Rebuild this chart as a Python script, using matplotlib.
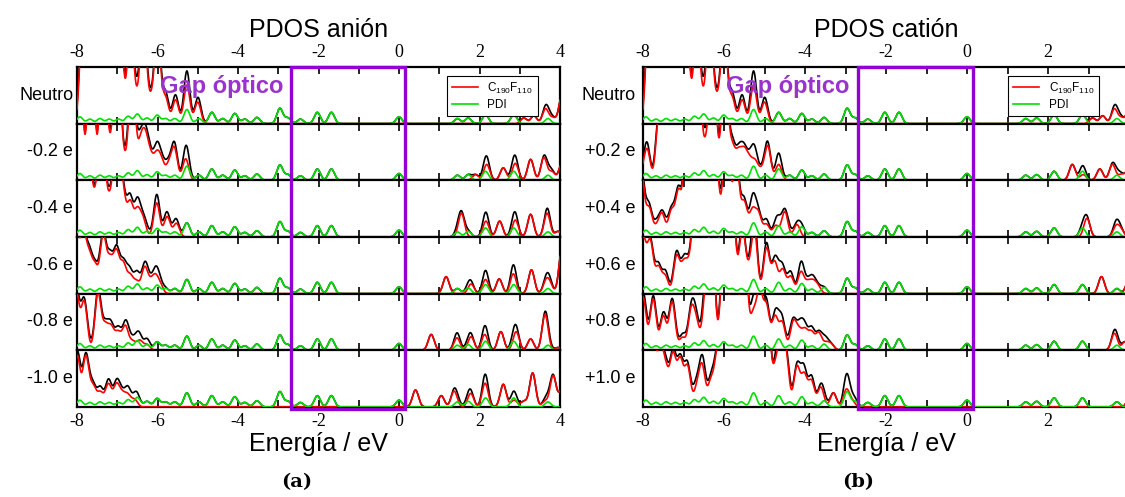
import numpy as np
import matplotlib.pyplot as plt
from matplotlib.patches import Rectangle
from matplotlib.lines import Line2D
from matplotlib.transforms import blended_transform_factory

plt.rcParams['axes.unicode_minus'] = False
plt.rcParams['mathtext.default'] = 'regular'

# peak positions (eV) and heights (fraction of a row) for each projected DOS
pdi_peaks = [(-7.93, 0.12), (-7.68, 0.08), (-7.43, 0.09), (-7.2, 0.08), (-6.97, 0.08),
             (-6.73, 0.13), (-6.5, 0.17), (-6.26, 0.1), (-6.01, 0.15), (-5.8, 0.09),
             (-5.57, 0.09), (-5.27, 0.25), (-4.97, 0.09), (-4.65, 0.2), (-4.38, 0.09),
             (-4.08, 0.18), (-3.83, 0.08), (-3.53, 0.11), (-2.96, 0.27), (-2.76, 0.1),
             (-2.45, 0.08), (-2.03, 0.2), (-1.68, 0.2), (0.0, 0.12), (1.45, 0.09),
             (1.72, 0.1), (2.15, 0.16), (2.85, 0.16), (3.7, 0.09)]

neutro_red = [(-7.85, 2.0), (-7.67, 2.0), (-7.49, 2.0), (-7.31, 2.0), (-7.13, 2.0),
              (-6.93, 1.8), (-6.67, 1.8), (-6.5, 0.3), (-6.35, 1.8), (-6.17, 0.35),
              (-6.0, 1.6), (-5.8, 0.45), (-5.55, 0.42), (-5.27, 0.68), (-5.0, 0.38),
              (3.1, 0.1), (3.35, 0.14), (3.64, 0.26), (3.82, 0.1), (4.05, 0.5)]

anion_red = [
    neutro_red,
    [(-7.95, 3.0), (-7.65, 3.0), (-7.35, 3.0), (-7.17, 0.45), (-7.0, 3.0), (-6.82, 0.3),
     (-6.63, 2.0), (-6.42, 0.6), (-6.3, 0.65), (-6.17, 0.35), (-6.02, 0.4), (-5.9, 0.3),
     (-5.72, 0.25), (-5.58, 0.55), (-5.3, 0.38),
     (1.9, 0.1), (2.18, 0.28), (2.59, 0.22), (2.89, 0.3), (3.27, 0.37), (3.6, 0.4),
     (3.8, 0.15), (4.05, 0.3)],
    [(-7.95, 2.5), (-7.75, 2.5), (-7.57, 0.6), (-7.39, 2.5), (-7.2, 0.6), (-7.02, 2.0),
     (-6.87, 0.8), (-6.68, 0.6), (-6.5, 0.45), (-6.36, 0.3), (-6.02, 0.6), (-5.76, 0.36),
     (-5.53, 0.24),
     (1.55, 0.42), (2.16, 0.28), (2.5, 0.28), (2.89, 0.3), (3.27, 0.4), (3.68, 0.42),
     (3.95, 0.1)],
    [(-8.05, 1.5), (-7.85, 1.0), (-7.7, 0.6), (-7.55, 0.45), (-7.35, 1.0), (-7.18, 0.55),
     (-7.02, 0.7), (-6.85, 0.5), (-6.68, 0.3), (-6.52, 0.2), (-6.32, 0.45), (-6.18, 0.15),
     (-6.06, 0.27), (-5.94, 0.15),
     (1.17, 0.3), (1.79, 0.17), (2.15, 0.25), (2.49, 0.26), (2.84, 0.35), (3.29, 0.42),
     (3.65, 0.2), (3.75, 0.15), (4.05, 0.8)],
    [(-8.02, 1.0), (-7.82, 0.85), (-7.48, 1.0), (-7.3, 0.4), (-7.15, 0.38), (-6.98, 0.3),
     (-6.8, 0.42), (-6.62, 0.15), (-6.44, 0.17), (-6.26, 0.1),
     (0.8, 0.28), (1.44, 0.22), (1.79, 0.24), (2.13, 0.28), (2.53, 0.33), (2.91, 0.33),
     (3.27, 0.2), (3.63, 0.63), (3.95, 0.05)],
    [(-8.0, 0.9), (-7.78, 0.88), (-7.6, 0.35), (-7.42, 0.25), (-7.22, 0.4), (-7.02, 0.38),
     (-6.88, 0.2), (-6.74, 0.2), (-6.57, 0.13),
     (0.41, 0.3), (1.05, 0.2), (1.37, 0.28), (1.78, 0.24), (2.14, 0.42), (2.59, 0.4),
     (2.86, 0.12), (3.1, 0.1), (3.32, 0.6), (3.63, 0.1), (3.83, 0.55), (4.05, 0.3)],
]

cation_red = [
    neutro_red,
    [(-8.05, 0.1), (-7.9, 0.55), (-7.6, 1.2), (-7.4, 2.5), (-7.15, 2.5), (-6.9, 2.5),
     (-6.65, 2.5), (-6.45, 0.55), (-6.28, 2.5), (-6.14, 0.15), (-5.98, 2.0), (-5.8, 0.55),
     (-5.64, 0.45), (-5.5, 0.45), (-5.37, 0.3), (-5.23, 0.3), (-5.08, 0.15), (-4.92, 0.6),
     (-4.65, 0.28),
     (2.6, 0.28), (2.87, 0.1), (3.28, 0.2), (3.59, 0.28), (3.81, 0.1), (4.0, 0.2)],
    [(-8.05, 1.2), (-7.85, 0.5), (-7.67, 0.15), (-7.53, 0.4), (-7.3, 0.45), (-7.12, 0.8),
     (-6.9, 2.5), (-6.65, 2.5), (-6.4, 2.5), (-6.25, 2.5), (-6.09, 0.3), (-5.93, 2.0),
     (-5.7, 1.3), (-5.5, 0.6), (-5.3, 0.45), (-5.15, 0.4), (-4.95, 0.22), (-4.72, 0.2),
     (-4.5, 0.45), (-4.2, 0.22),
     (2.96, 0.33), (3.68, 0.18), (3.8, 0.12)],
    [(-8.0, 0.95), (-7.82, 0.9), (-7.62, 0.45), (-7.45, 0.3), (-7.17, 0.65), (-7.0, 0.45),
     (-6.88, 0.38), (-6.72, 1.5), (-6.5, 2.0), (-6.25, 2.0), (-6.0, 2.0), (-5.8, 1.8),
     (-5.55, 1.1), (-5.4, 0.3), (-5.25, 1.1), (-4.95, 0.8), (-4.75, 0.55), (-4.55, 0.42),
     (-4.35, 0.3), (-4.1, 0.38), (-3.93, 0.18), (-3.8, 0.18), (-3.68, 0.12),
     (3.32, 0.3), (4.0, 0.25)],
    [(-8.0, 0.94), (-7.75, 0.9), (-7.5, 0.6), (-7.28, 0.85), (-7.03, 0.22), (-6.81, 0.68),
     (-6.68, 0.45), (-6.45, 1.0), (-6.3, 2.0), (-6.0, 2.0), (-5.75, 2.0), (-5.5, 2.0),
     (-5.28, 0.6), (-5.12, 1.0), (-4.95, 0.75), (-4.74, 0.58), (-4.56, 0.48),
     (-4.29, 0.48), (-4.15, 0.3), (-4.0, 0.33), (-3.84, 0.3), (-3.66, 0.3),
     (-3.48, 0.12), (-3.35, 0.1),
     (3.64, 0.3), (3.9, 0.15)],
    [(-8.0, 2.5), (-7.8, 2.5), (-7.58, 1.0), (-7.44, 0.6), (-7.26, 0.9), (-7.08, 0.8),
     (-6.9, 0.7), (-6.67, 0.3), (-6.54, 0.7), (-6.32, 0.45), (-6.15, 1.0), (-5.95, 2.5),
     (-5.7, 2.5), (-5.45, 2.5), (-5.2, 2.5), (-4.95, 2.5), (-4.74, 0.6), (-4.6, 1.0),
     (-4.47, 0.85), (-4.2, 0.7), (-4.02, 0.55), (-3.84, 0.45), (-3.61, 0.35), (-3.3, 0.25),
     (-2.98, 0.3), (-2.84, 0.1),
     (4.05, 0.3)],
]

anion_labels = ['Neutro', '-0.2 e', '-0.4 e', '-0.6 e', '-0.8 e', '-1.0 e']
cation_labels = ['Neutro', '+0.2 e', '+0.4 e', '+0.6 e', '+0.8 e', '+1.0 e']

energy = np.linspace(-8.3, 4.3, 2500)
sigma = 0.075
gap = (-2.68, 0.15)

RED = '#ff0000'
GREEN = '#00e000'
PURPLE = '#9400d3'
SANS = 'Liberation Sans'
SERIF = 'Liberation Serif'


def broaden(peaks):
    e0 = np.array([p[0] for p in peaks])
    h = np.array([p[1] for p in peaks])
    return (h[:, None] * np.exp(-(energy - e0[:, None]) ** 2 / (2 * sigma ** 2))).sum(axis=0)


W, H = 1125, 497
fig = plt.figure(figsize=(W / 100, H / 100), dpi=100)

row_top = 67
row_h = (407 - 67) / 6
pdi = broaden(pdi_peaks)


def panel(x0, width, reds, labels, title, tag, tag_x, lab_off, leg_x):
    axes = []
    for i, (peaks, lab) in enumerate(zip(reds, labels)):
        bottom = 1 - (row_top + (i + 1) * row_h) / H
        ax = fig.add_axes([x0 / W, bottom, width / W, row_h / H])
        red = broaden(peaks)
        ax.plot(energy, red + pdi, color='black', lw=1.2, zorder=2)
        ax.plot(energy, red, color=RED, lw=1.2, zorder=3)
        ax.plot(energy, pdi, color=GREEN, lw=1.2, zorder=4)
        ax.set_xlim(-8, 4)
        ax.set_ylim(0, 1)
        ax.set_yticks([])
        ax.set_xticks(range(-8, 5, 2))
        ax.set_xticks(range(-7, 4, 2), minor=True)
        ax.tick_params(axis='x', which='both', direction='in', top=True, bottom=True,
                       labelbottom=(i == 5), labeltop=(i == 0), length=5, width=1.2,
                       labelsize=13, pad=4)
        for t in ax.get_xticklabels():
            t.set_family(SERIF)
        for s in ax.spines.values():
            s.set_linewidth(1.6)
        ax.text(lab_off, 0.5, lab, transform=ax.transAxes, ha='right', va='center',
                fontsize=13, family=SANS)
        axes.append(ax)

    top = axes[0]
    top.text(-5.95, 0.55, 'Gap óptico', color='#9a32cd', fontsize=17,
             fontweight='bold', family=SANS, zorder=6)
    handles = [Line2D([], [], color=RED, lw=1.2), Line2D([], [], color=GREEN, lw=1.2)]
    leg = top.legend(handles, ['C$_{190}$F$_{110}$', 'PDI'], loc='upper right',
                     bbox_to_anchor=(leg_x, 0.95), prop={'family': SANS, 'size': 8.5},
                     frameon=True, fancybox=False, framealpha=1, edgecolor='black',
                     borderpad=0.4, handlelength=2.2, labelspacing=0.3)
    leg.get_frame().set_linewidth(0.8)
    leg.set_zorder(7)

    trans = blended_transform_factory(axes[-1].transData, fig.transFigure)
    y0 = 1 - 409 / H
    y1 = 1 - 67 / H
    fig.add_artist(Rectangle((gap[0], y0), gap[1] - gap[0], y1 - y0, transform=trans,
                             fill=False, edgecolor=PURPLE, lw=2.4, zorder=20))

    cx = (x0 + width / 2) / W
    fig.text(cx, 1 - 37 / H, title, ha='center', va='baseline', fontsize=18, family=SANS)
    fig.text(cx, 1 - 451 / H, 'Energía / eV', ha='center', va='baseline',
             fontsize=18, family=SANS)
    fig.text(tag_x / W, 1 - 487 / H, tag, ha='center', va='baseline', fontsize=14,
             fontweight='bold', family='DejaVu Serif')


panel(77, 483, anion_red, anion_labels, 'PDOS anión', '(a)', 297, -0.008, 0.966)
panel(643, 486, cation_red, cation_labels, 'PDOS catión', '(b)', 858, -0.016, 0.95)

fig.savefig('out.png', dpi=100)
